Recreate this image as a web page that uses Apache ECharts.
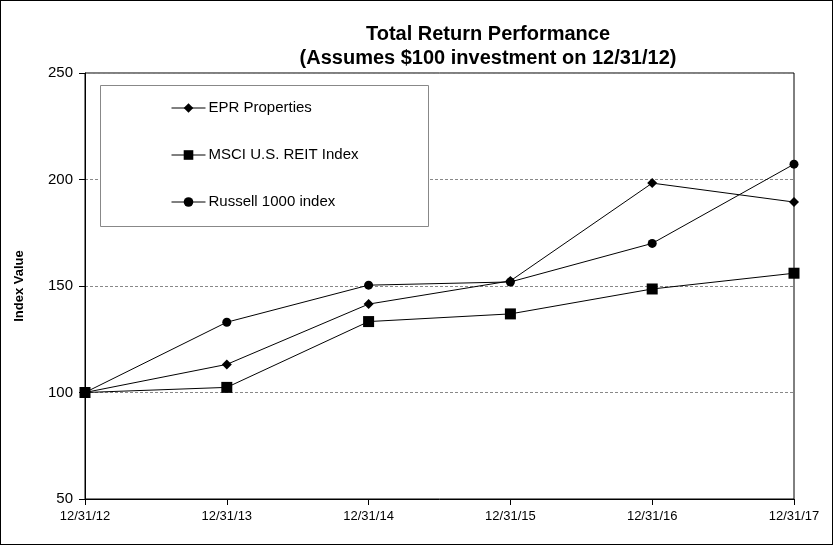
<!DOCTYPE html>
<html><head><meta charset="utf-8">
<script src="https://cdn.jsdelivr.net/npm/echarts@6/dist/echarts.min.js"></script>
<style>
html,body{margin:0;padding:0;background:#fff;}
#c{width:833px;height:545px;box-sizing:border-box;border:1px solid #000;}
</style></head><body>
<div id="c"></div>
<script>
var categories = ['12/31/12','12/31/13','12/31/14','12/31/15','12/31/16','12/31/17'];
var eprValues = [100, 113.2, 141.5, 152.4, 198.3, 189.4];
var msciValues = [100, 102.4, 133.3, 136.9, 148.6, 156.0];
var russellValues = [100, 133.0, 150.4, 151.9, 170.0, 207.2];
var seriesNames = ['EPR Properties', 'MSCI U.S. REIT Index', 'Russell 1000 index'];
var yTicks = [50, 100, 150, 200, 250];

var font = 'Liberation Sans, Arial, sans-serif';
var chart = echarts.init(document.getElementById('c'), null, {renderer:'canvas'});
function mk(name, data, symbol, size){
  return {name:name, type:'line', data:data, symbol:symbol, symbolSize:size,
    lineStyle:{color:'#000', width:1}, itemStyle:{color:'#000'}, animation:false, z:3};
}
chart.setOption({
  animation:false,
  title:{text:'Total Return Performance\n(Assumes $100 investment on 12/31/12)',
    left:487, top:21, textAlign:'center', padding:0,
    textStyle:{fontFamily:font, fontWeight:'bold', fontSize:20, lineHeight:24, color:'#000'}},
  grid:{left:84, right:38, top:72, bottom:45, show:true, borderColor:'#000', borderWidth:1, backgroundColor:'#fff'},
  graphic:[{type:'rect', left:99, top:84, shape:{width:328, height:141},
    style:{fill:'#fff', stroke:'#888', lineWidth:1}, z:10}],
  legend:{orient:'vertical', left:170, top:99, padding:0, itemGap:31, itemWidth:34, itemHeight:12, z:20,
    lineStyle:{width:1},
    textStyle:{fontFamily:font, fontSize:15, lineHeight:16, color:'#000', padding:[0,0,0,-2]},
    data:seriesNames},
  xAxis:{type:'category', data:categories, boundaryGap:false,
    axisLine:{lineStyle:{color:'#000', width:1}},
    axisTick:{show:true, length:6, lineStyle:{color:'#000'}},
    axisLabel:{fontFamily:font, fontSize:13, color:'#000', margin:11},
    splitLine:{show:false}},
  yAxis:{type:'value', min:yTicks[0], max:yTicks[yTicks.length-1], interval:50,
    name:'Index Value', nameLocation:'middle', nameGap:59, nameRotate:90,
    nameTextStyle:{fontFamily:font, fontWeight:'bold', fontSize:13, color:'#000'},
    axisLine:{show:true, lineStyle:{color:'#000', width:1}},
    axisTick:{show:true, length:6, lineStyle:{color:'#000'}},
    axisLabel:{fontFamily:font, fontSize:15, color:'#000', margin:12},
    splitLine:{show:true, lineStyle:{color:'#888', type:[3,2], width:1}}},
  series:[
    mk(seriesNames[0], eprValues, 'diamond', 10),
    mk(seriesNames[1], msciValues, 'rect', 11),
    mk(seriesNames[2], russellValues, 'circle', 9)
  ]
});
</script></body></html>
